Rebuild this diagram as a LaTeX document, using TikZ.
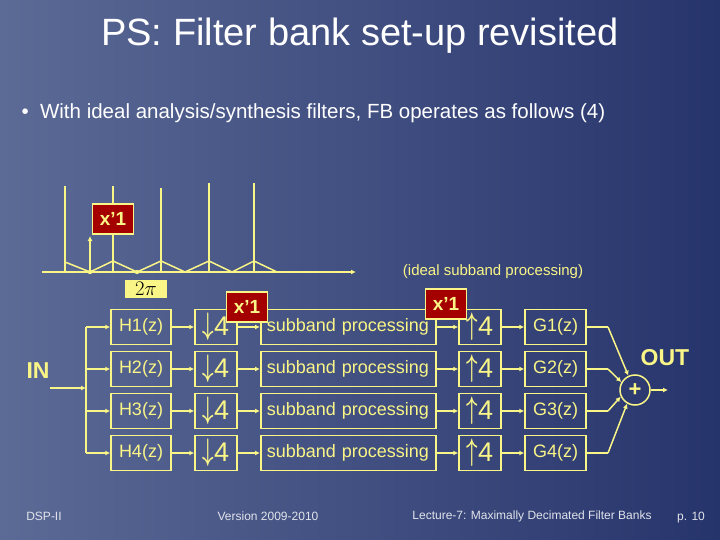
\documentclass[tikz,border=0pt]{standalone}
\usepackage{fontspec}
\setmainfont{Liberation Sans}
\usetikzlibrary{arrows.meta}
\definecolor{yel}{RGB}{250,245,135}
\definecolor{bgA}{RGB}{92,106,150}
\definecolor{bgB}{RGB}{38,52,108}
\definecolor{redb}{RGB}{165,0,0}
\definecolor{foot}{RGB}{225,228,235}
\tikzset{
  ln/.style={yel,line width=1.5pt},
  ar/.style={ln,-{Latex[length=5pt,width=5pt]}},
  blk/.style={draw=yel,line width=1.5pt,minimum height=35pt,text=yel,font=\fontsize{18}{18}\selectfont,inner sep=2pt},
  rs/.style={blk,minimum width=42pt,font=\fontsize{27}{27}\selectfont},
  xbox/.style={draw=yel,line width=1.2pt,fill=redb,text=yel,font=\bfseries\fontsize{19}{19}\selectfont,minimum width=41pt,minimum height=30pt,inner sep=0pt},
  ft/.style={text=foot,font=\fontsize{12}{12}\selectfont}
}
\begin{document}
\begin{tikzpicture}[x=1pt,y=-1pt]
\shade[shading angle=225,left color=bgA,right color=bgB] (0,0) rectangle (720,540);
\useasboundingbox (0,0) rectangle (720,540);
\node[text=white,font=\fontsize{38}{38}\selectfont] (title) at (360,36) {PS: Filter bank set-up revisited};
\node[text=white,anchor=west,font=\fontsize{20.5}{20.5}\selectfont] (bul) at (18,113) {•\ \ With ideal analysis/synthesis filters, FB operates as follows (4)};
% spectrum
\coordinate (ax0) at (42,272); \coordinate (ax1) at (356,272);
\draw[ar] (ax0) -- (ax1);
\foreach \x/\t in {65/186,113/186,161/188,209/183,254/183} \draw[ln] (\x,272) -- (\x,\t);
\draw[ln] (65,262) -- (90,272) -- (113,261) -- (137,272) -- (161,261) -- (185,272) -- (209,261) -- (232,272) -- (254,261) -- (277,272);
\coordinate (s0) at (90,272); \coordinate (s1) at (90,236);
\draw[ar] (s0) -- (s1);
\fill[yel] (90,272) circle (2.2pt) (137,272) circle (2.2pt);
\node[xbox] (xa) at (113,219) {x’1};
\node[fill=yel,inner sep=2pt,minimum width=42pt,minimum height=17pt,font=\fontsize{20}{20}\selectfont] (tp) at (146,289) {$2\pi$};
\node[text=yel,font=\fontsize{15}{15}\selectfont] (isp) at (493,272) {(ideal subband processing)};
% blocks
\node[text=yel,font=\bfseries\fontsize{23}{23}\selectfont] (in) at (38,371) {IN};
\coordinate (i0) at (50,388); \coordinate (br) at (86,388);
\draw[ar] (i0) -- (br);
\draw[ln] (86,327) -- (86,453);
\foreach \i/\y in {1/327,2/369,3/411,4/453}{
  \node[blk,minimum width=60pt] (h\i) at (141,\y) {H\i(z)};
  \node[rs] (d\i) at (216,\y) {\raisebox{1pt}{\scalebox{0.8}[1.25]{\boldmath$\downarrow$}}4};
  \node[blk,minimum width=175pt,anchor=west,text width=163pt,inner xsep=6pt] (sp\i) at (260,\y) {subband processing};
  \node[rs] (u\i) at (480,\y) {\raisebox{1pt}{\scalebox{0.8}[1.25]{\boldmath$\uparrow$}}4};
  \node[blk,minimum width=61pt] (g\i) at (555.5,\y) {G\i(z)};
  \coordinate (b\i) at (86,\y);
  \coordinate (k\i) at (608,\y);
  \draw[ar] (b\i) -- (h\i);
  \draw[ar] (h\i) -- (d\i);
  \draw[ar] (d\i) -- (sp\i);
  \draw[ar] (sp\i) -- (u\i);
  \draw[ar] (u\i) -- (g\i);
  \draw[ln] (g\i) -- (k\i);
}
\node[draw=yel,line width=1.5pt,circle,minimum size=30pt,inner sep=0pt,text=yel,font=\bfseries\fontsize{22}{22}\selectfont] (sum) at (635,390) {+};
\draw[ar] (k1) -- (sum.115);
\draw[ar] (k2) -- (sum.150);
\draw[ar] (k3) -- (sum.205);
\draw[ar] (k4) -- (sum.240);
\coordinate (o1) at (668,390);
\draw[ar] (sum) -- (o1);
\node[text=yel,font=\bfseries\fontsize{23}{23}\selectfont] (out) at (665,358) {OUT};
\node[xbox] (xb) at (247,307) {x’1};
\node[xbox] (xc) at (446,304) {x’1};
% footer
\node[ft] (f1) at (44,516) {DSP-II};
\node[ft] (f2) at (268,516) {Version 2009-2010};
\node[ft] (f3) at (532,516) {Lecture-7: Maximally Decimated Filter Banks};
\node[ft] (f4) at (691,518) {p. 10};
\end{tikzpicture}
\end{document}
